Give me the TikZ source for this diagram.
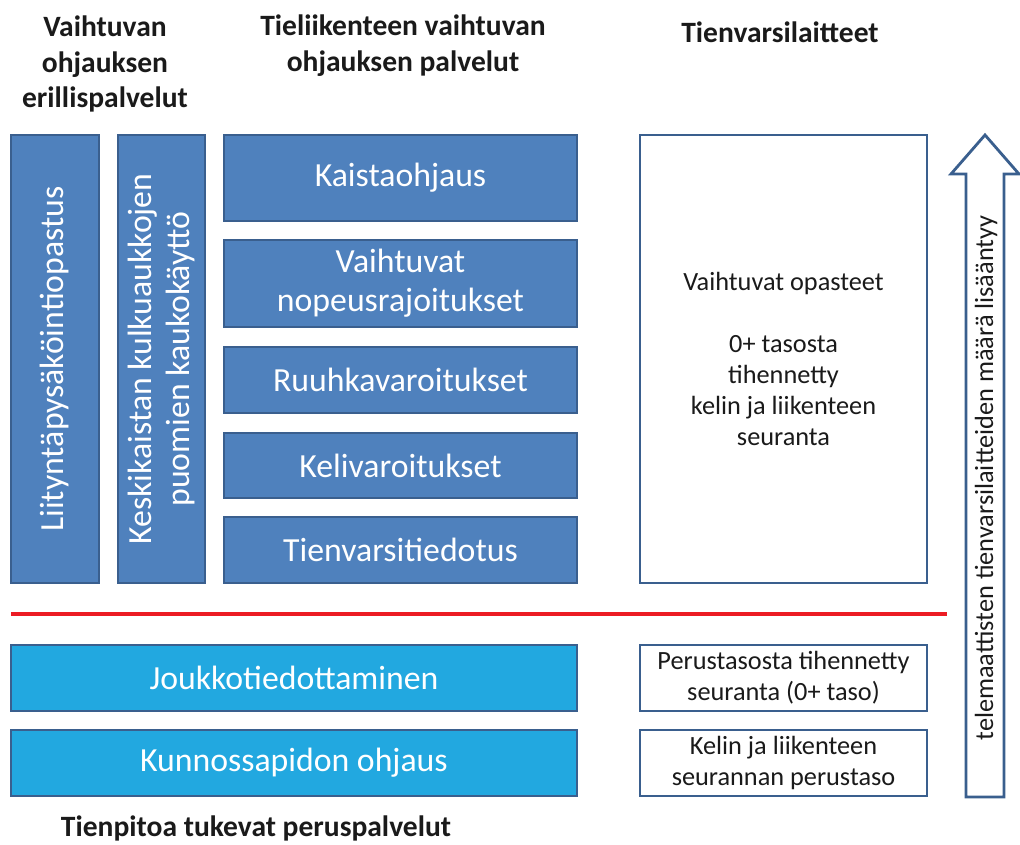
\documentclass[tikz,border=0pt]{standalone}
\usepackage{fontspec}
\setmainfont{Carlito}
\usepackage{xcolor}
\usetikzlibrary{positioning}
\definecolor{darkbl}{HTML}{4F81BD}
\definecolor{edgebl}{HTML}{3A5F8E}
\definecolor{lightbl}{HTML}{22A8E0}
\definecolor{redln}{HTML}{EC1C24}
\definecolor{txt}{HTML}{1A1A1A}

\begin{document}
\begin{tikzpicture}[
  x=0.025cm, y=-0.025cm,
  sv/.style={rectangle, draw=edgebl, fill=darkbl, line width=2pt, text=white,
             align=center, inner sep=0pt, minimum width=8.825cm,
             font=\fontsize{24}{27.5}\selectfont},
  vs/.style={sv, rotate=90, minimum width=11.2cm},
  bs/.style={sv, fill=lightbl, minimum width=14.15cm, minimum height=1.65cm},
  wb/.style={rectangle, draw=edgebl, fill=white, line width=2pt, text=txt,
             align=center, inner sep=0pt, minimum width=7.175cm,
             font=\fontsize{18.7}{22}\selectfont},
  hd/.style={align=center, text=txt, font=\bfseries\fontsize{21}{25.5}\selectfont}
]
\useasboundingbox (0,0) rectangle (1020,845);

% Headings
\node[hd] (h1) at (105,64) {Vaihtuvan\\ohjauksen\\erillispalvelut};
\node[hd] (h2) at (403,46) {Tieliikenteen vaihtuvan\\ohjauksen palvelut};
\node[hd] (h3) at (780,32) {Tienvarsilaitteet};
\node[hd] (h4) at (256,828) {Tienpitoa tukevat peruspalvelut};

% Vertical service boxes
\node[vs, minimum height=2.2cm] (lp) at (55,359) {Liityntäpysäköintiopastus};
\node[vs, minimum height=2.175cm] (kk) at (161.5,359)
  {Keskikaistan kulkuaukkojen\\puomien kaukokäyttö};

% Traffic control services
\node[sv, minimum height=2.15cm]  (ko) at (400.5,178)   {Kaistaohjaus};
\node[sv, minimum height=2.175cm] (vn) at (400.5,283.5) {Vaihtuvat\\nopeusrajoitukset};
\node[sv, minimum height=1.65cm]  (rv) at (400.5,380)   {Ruuhkavaroitukset};
\node[sv, minimum height=1.625cm] (kv) at (400.5,465.5) {Kelivaroitukset};
\node[sv, minimum height=1.65cm]  (tt) at (400.5,550)   {Tienvarsitiedotus};

% Roadside devices
\node[wb, minimum height=11.2cm] (vo) at (783.5,359)
  {Vaihtuvat opasteet\\[22pt]0+ tasosta\\tihennetty\\kelin ja liikenteen\\seuranta};

% Separator
\coordinate (s1) at (11,614);
\coordinate (s2) at (947,614);
\draw[redln, line width=3.5pt] (s1) -- (s2);

% Basic services
\node[bs] (jt) at (294,678) {Joukkotiedottaminen};
\node[bs] (ko2) at (294,763) {Kunnossapidon ohjaus};
\node[wb, minimum height=1.65cm] (pt) at (783.5,678) {Perustasosta tihennetty\\seuranta (0+ taso)};
\node[wb, minimum height=1.65cm] (kl) at (783.5,763) {Kelin ja liikenteen\\seurannan perustaso};

% Growth arrow
\draw[edgebl, line width=2pt, fill=white, line join=miter]
  (966,797) -- (966,174) -- (951,174) -- (985,135) -- (1019,174)
  -- (1004,174) -- (1004,797) -- cycle;
\node[rotate=90, text=txt, font=\fontsize{18.7}{22}\selectfont] (ar) at (986,478)
  {telemaattisten tienvarsilaitteiden määrä lisääntyy};
\end{tikzpicture}
\end{document}
